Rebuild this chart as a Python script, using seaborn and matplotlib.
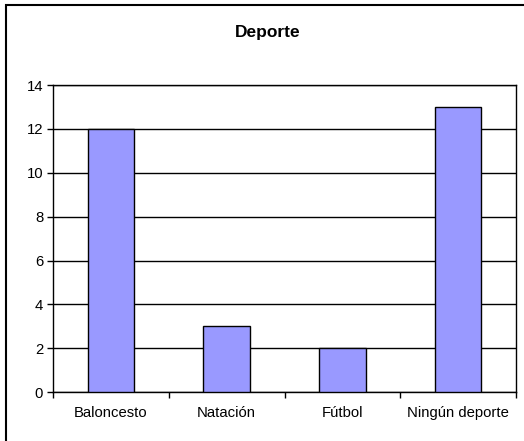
import matplotlib
matplotlib.use("Agg")
import matplotlib.pyplot as plt
import seaborn as sns
import pandas as pd
from matplotlib.patches import Rectangle

deportes = ["Baloncesto", "Natación", "Fútbol", "Ningún deporte"]
alumnos = [12, 3, 2, 13]
y_ticks = [0, 2, 4, 6, 8, 10, 12, 14]

sns.set_theme(style="white")
plt.rcParams['font.family'] = ['Liberation Sans', 'DejaVu Sans']

df = pd.DataFrame({"deporte": deportes, "alumnos": alumnos})

fig = plt.figure(figsize=(5.24, 4.41), dpi=100)
ax = fig.add_axes([0.101, 0.111, 0.884, 0.696])

sns.barplot(data=df, x="deporte", y="alumnos", color="#9999FF", saturation=1,
            width=0.4, edgecolor="black", linewidth=1, ax=ax, zorder=3)

ax.set_ylim(0, 14)
ax.set_xlim(-0.5, 3.5)
ax.set_yticks(y_ticks)
ax.yaxis.grid(True, color="black", linewidth=1, zorder=0)
ax.set_axisbelow(True)
for s in ax.spines.values():
    s.set_visible(True)
    s.set_color("black")
    s.set_linewidth(1)

# category boundaries carry the tick marks, labels sit at the centres
ax.set_xticks([i + 0.5 for i in range(-1, 4)], minor=False)
ax.set_xticklabels([])
ax.set_xticks(range(len(deportes)), minor=True)
ax.set_xticklabels(deportes, minor=True)
ax.tick_params(axis="x", which="major", direction="out", length=4, width=1,
               color="black", bottom=True)
ax.tick_params(axis="x", which="minor", length=0, pad=10, labelsize=10.7,
               labelcolor="black")
ax.tick_params(axis="y", direction="out", length=4, width=1, color="black",
               left=True, labelsize=10.7, labelcolor="black", pad=3)
ax.set_xlabel("")
ax.set_ylabel("")

fig.text(0.511, 0.927, "Deporte", ha="center", va="center",
         fontsize=12.5, fontweight="bold", color="black")

# chart frame: only top and left edges fall inside the picture
fig.patches.append(Rectangle((6 / 524, -0.05), 1.1, 1.05 - 5 / 441 + 0.0,
                             transform=fig.transFigure, fill=False,
                             edgecolor="black", linewidth=1.5))

fig.savefig("out.png", dpi=100)
